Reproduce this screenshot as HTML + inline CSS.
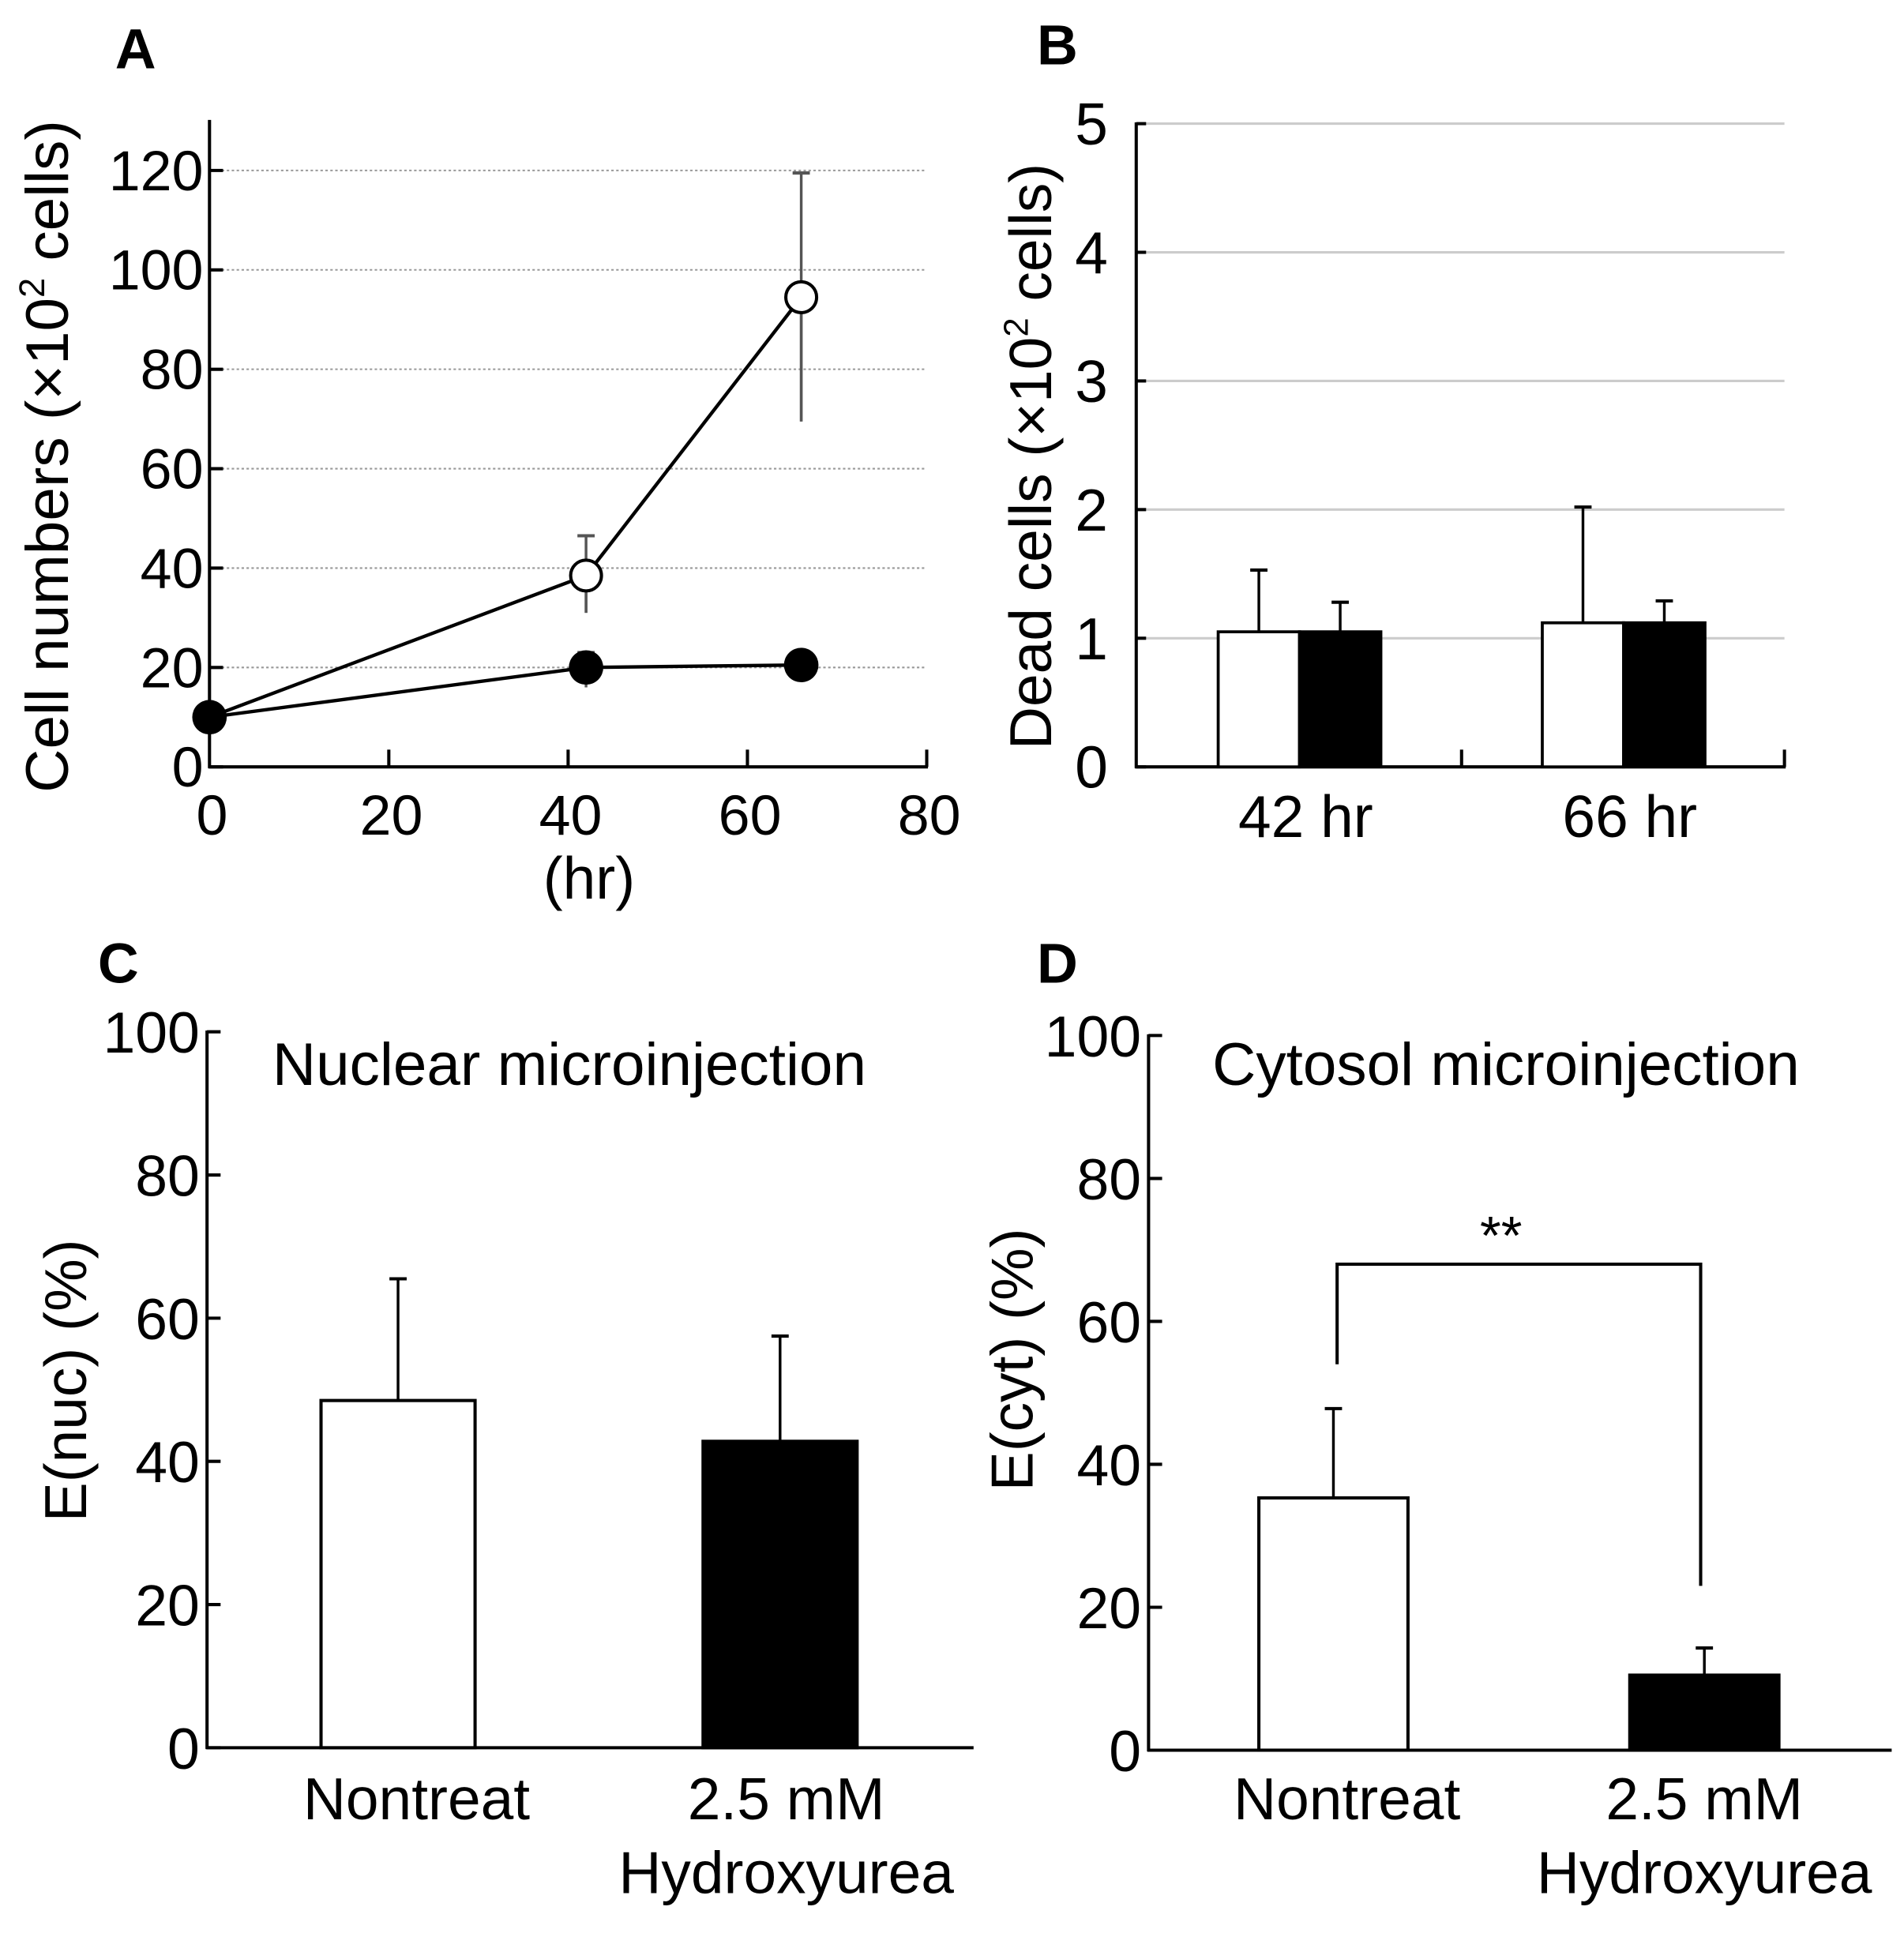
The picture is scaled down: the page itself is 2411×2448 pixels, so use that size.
<!DOCTYPE html>
<html><head><meta charset="utf-8"><style>
html,body{margin:0;padding:0;background:#fff;}
svg{display:block;font-family:"Liberation Sans",Arial,sans-serif;}
</style></head><body>
<svg id="fig" width="2411" height="2448" viewBox="0 0 1545 1568" xmlns="http://www.w3.org/2000/svg"></svg>
<script>
// Panel A data
const aTimes = [0, 42, 66];
const aOpen = [10, 38.5, 94.5];
const aOpenLo = [10, 31, 69.5];
const aOpenHi = [10, 46.5, 119.5];
const aFilled = [10, 20, 20.5];
const aFilledLo = [10, 16, 20.5];
const aFilledHi = [10, 23, 20.5];
const aYTicks = [0, 20, 40, 60, 80, 100, 120];
const aXTicks = [0, 20, 40, 60, 80];
// Panel B data
const bCats = ["42 hr", "66 hr"];
const bOpen = [1.05, 1.12];
const bOpenErr = [1.53, 2.02];
const bFilled = [1.05, 1.12];
const bFilledErr = [1.28, 1.29];
const bYTicks = [0, 1, 2, 3, 4, 5];
// Panel C data
const cVals = [48.5, 42.8];
const cErr = [65.5, 57.5];
// Panel D data
const dVals = [35.3, 10.5];
const dErr = [47.8, 14.3];
const cdYTicks = [0, 20, 40, 60, 80, 100];

const svg = document.getElementById('fig');
const NS = 'http://www.w3.org/2000/svg';
function mk(tag, attrs, parent) {
  const e = document.createElementNS(NS, tag);
  for (const k in attrs) e.setAttribute(k, attrs[k]);
  (parent || svg).appendChild(e);
  return e;
}
function txt(s, x, y, size, anchor, name, extra) {
  const t = mk('text', Object.assign({x: x, y: y, 'font-size': size, 'text-anchor': anchor || 'middle', fill: '#000'}, extra || {}));
  t.textContent = s;
  
  
  return t;
}
function line(x1, y1, x2, y2, name, extra) {
  const l = mk('line', Object.assign({x1: x1, y1: y1, x2: x2, y2: y2, stroke: '#000', 'stroke-width': 2.6}, extra || {}));
  
  
  return l;
}
function errbar(x, y0, y1, name, col) {
  line(x, y0, x, y1, name, {stroke: col || '#000', 'stroke-width': 2.2});
  line(x - 7, y1, x + 7, y1, name + '-cap', {stroke: col || '#000', 'stroke-width': 2.6});
}

// ===== Panel A =====
const ax = {x0: 170, x1: 752, y0: 622, yTop: 97};
const aX = v => ax.x0 + v / 80 * (ax.x1 - ax.x0);
const aY = v => ax.y0 - v / 120 * (622 - 138);
txt('A', 110, 55, 46, 'middle', 'panel-a-label', {'font-weight': 'bold'});
aYTicks.forEach(v => {
  if (v > 0) line(180, aY(v), ax.x1, aY(v), 'a-gridline-' + v, {stroke: '#999', 'stroke-width': 1.3, 'stroke-dasharray': '2,2'});
  line(ax.x0, aY(v), ax.x0 + 11, aY(v), 'a-y-tick-' + v);
  txt(String(v), 165, aY(v) + 16, 46, 'end', 'a-y-tick-label-' + v);
});
aXTicks.forEach(v => {
  if (v > 0) line(aX(v), ax.y0, aX(v), ax.y0 - 14, 'a-x-tick-' + v);
  txt(String(v), aX(v) + 2, 677, 46, 'middle', 'a-x-tick-label-' + v);
});
line(ax.x0, ax.yTop, ax.x0, ax.y0 + 1, 'a-y-axis');
line(ax.x0 - 1, ax.y0, ax.x1 + 1, ax.y0, 'a-x-axis');
txt('(hr)', 478, 729, 48, 'middle', 'a-x-axis-title');
const aTitle = txt('', 0, 0, 49, 'middle', 'a-y-axis-title', {transform: 'translate(55,370) rotate(-90)'});
aTitle.innerHTML = 'Cell numbers (×10<tspan font-size="29" dy="-19">2</tspan><tspan dy="19"> cells)</tspan>';
for (let i = 0; i < aTimes.length; i++) errbar(aX(aTimes[i]), aY(aFilledLo[i]), aY(aFilledHi[i]), 'a-filled-error-' + i, '#555');
for (let i = 0; i < aTimes.length; i++) if (i > 0) errbar(aX(aTimes[i]), aY(aOpenLo[i]), aY(aOpenHi[i]), 'a-open-error-' + i, '#555');
for (let i = 0; i < aTimes.length; i++) if (i > 0) line(aX(aTimes[i]), aY(aOpen[i]), aX(aTimes[i]), aY(aOpenLo[i]), 'a-open-error-low-' + i, {stroke: '#555', 'stroke-width': 2.2});
const pOpen = mk('polyline', {points: aTimes.map((t, i) => aX(t) + ',' + aY(aOpen[i])).join(' '), fill: 'none', stroke: '#000', 'stroke-width': 2.8});


const pFill = mk('polyline', {points: aTimes.map((t, i) => aX(t) + ',' + aY(aFilled[i])).join(' '), fill: 'none', stroke: '#000', 'stroke-width': 2.8});


aTimes.forEach((t, i) => {
  if (i > 0) {
    const c = mk('circle', {cx: aX(t), cy: aY(aOpen[i]), r: 12.5, fill: '#fff', stroke: '#000', 'stroke-width': 2.6});
    
    
  }
});
aTimes.forEach((t, i) => {
  const c = mk('circle', {cx: aX(t), cy: aY(aFilled[i]), r: 14, fill: '#000'});
  
  
});

// ===== Panel B =====
const bx = {x0: 922, x1: 1448, y0: 622};
const bY = v => bx.y0 - v / 5 * (622 - 100);
txt('B', 858, 52, 46, 'middle', 'panel-b-label', {'font-weight': 'bold'});
bYTicks.forEach(v => {
  if (v > 0) line(bx.x0, bY(v), bx.x1, bY(v), 'b-gridline-' + v, {stroke: '#ccc', 'stroke-width': 2});
  line(bx.x0, bY(v), bx.x0 + 8, bY(v), 'b-y-tick-' + v);
  txt(String(v), 899, bY(v) + 17, 48, 'end', 'b-y-tick-label-' + v);
});
line(bx.x0, 99, bx.x0, bx.y0 + 1, 'b-y-axis');
line(bx.x0 - 1, bx.y0, bx.x1 + 1, bx.y0, 'b-x-axis');
line(1186, bx.y0, 1186, bx.y0 - 14, 'b-x-tick-mid');
line(bx.x1, bx.y0, bx.x1, bx.y0 - 14, 'b-x-tick-end');
const bTitle = txt('', 0, 0, 48, 'middle', 'b-y-axis-title', {transform: 'translate(853,370) rotate(-90)'});
bTitle.innerHTML = 'Dead cells (×10<tspan font-size="28" dy="-19">2</tspan><tspan dy="19"> cells)</tspan>';
const bGroupW = (bx.x1 - bx.x0) / bCats.length;
bCats.forEach((c, i) => {
  const gx = bx.x0 + bGroupW * (i + 0.5);
  const bw = 66;
  const xo = gx - bw + 1, xf = gx + 1;
  errbar(xo + bw / 2, bY(bOpen[i]), bY(bOpenErr[i]), 'b-open-error-' + i);
  errbar(xf + bw / 2, bY(bFilled[i]), bY(bFilledErr[i]), 'b-filled-error-' + i);
  const r1 = mk('rect', {x: xo, y: bY(bOpen[i]), width: bw, height: bx.y0 - bY(bOpen[i]), fill: '#fff', stroke: '#000', 'stroke-width': 2.4});
  
  
  const r2 = mk('rect', {x: xf, y: bY(bFilled[i]), width: bw, height: bx.y0 - bY(bFilled[i]), fill: '#000', stroke: '#000', 'stroke-width': 2.4});
  
  
  txt(c, gx + 6, 679, 48, 'middle', 'b-x-tick-label-' + i);
});

// ===== Panels C & D =====
function barPanel(p) {
  const Y = v => p.y0 - v / 100 * (p.y0 - p.yTop);
  txt(p.label, p.labelX, 797, 46, 'middle', p.id + '-panel-label', {'font-weight': 'bold'});
  cdYTicks.forEach(v => {
    line(p.x0, Y(v), p.x0 + 11, Y(v), p.id + '-y-tick-' + v);
    txt(String(v), p.x0 - 6, Y(v) + 17, 47, 'end', p.id + '-y-tick-label-' + v);
  });
  line(p.x0, p.yTop - 1, p.x0, p.y0 + 1, p.id + '-y-axis');
  line(p.x0 - 1, p.y0, p.x1, p.y0, p.id + '-x-axis');
  txt(p.title, p.titleX, 880, 49, 'middle', p.id + '-title');
  txt(p.ytitle, 0, 0, 48, 'middle', p.id + '-y-axis-title', {transform: 'translate(' + p.ytX + ',' + p.ytY + ') rotate(-90)'});
  p.vals.forEach((v, i) => {
    const cx = p.centers[i];
    errbar(cx, Y(v), Y(p.err[i]), p.id + '-error-' + i);
    const r = mk('rect', {x: cx - p.bw / 2, y: Y(v), width: p.bw, height: p.y0 - Y(v), fill: i === 0 ? '#fff' : '#000', stroke: '#000', 'stroke-width': 2.6});
    
    
  });
  txt('Nontreat', p.labX[0], 1476, 48, 'middle', p.id + '-x-label-nontreat');
  txt('2.5 mM', p.labX[1], 1476, 48, 'middle', p.id + '-x-label-dose');
  txt('Hydroxyurea', p.labX[1], 1536, 48, 'middle', p.id + '-x-label-hydroxyurea');
  return Y;
}
barPanel({id: 'c', label: 'C', labelX: 96, x0: 168, x1: 790, y0: 1418, yTop: 837, title: 'Nuclear microinjection', titleX: 462,
  ytitle: 'E(nuc) (%)', ytX: 70, ytY: 1120, vals: cVals, err: cErr, centers: [323, 633], bw: 125, labX: [338, 638]});
const dY = barPanel({id: 'd', label: 'D', labelX: 858, x0: 932, x1: 1535, y0: 1420, yTop: 840, title: 'Cytosol microinjection', titleX: 1222,
  ytX: 838, ytY: 1103, ytitle: 'E(cyt) (%)', vals: dVals, err: dErr, centers: [1082, 1383], bw: 121, labX: [1093, 1383]});
const br = mk('polyline', {points: '1085,' + dY(54) + ' 1085,' + dY(68) + ' 1380,' + dY(68) + ' 1380,' + dY(23), fill: 'none', stroke: '#000', 'stroke-width': 2.6});


txt('**', 1218, dY(68) - 8, 44, 'middle', 'd-significance-stars');
</script>
</body></html>
